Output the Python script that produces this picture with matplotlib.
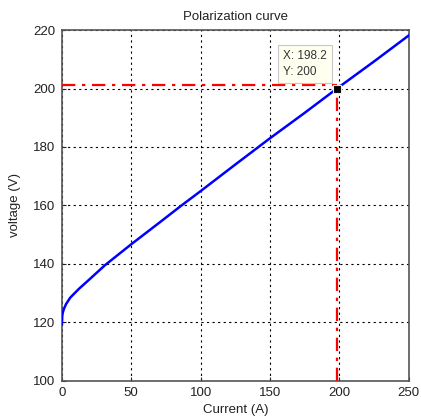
import matplotlib
matplotlib.use("Agg")
import matplotlib.pyplot as plt

# Data
current = [0, 0.3, 0.7, 1.5, 3, 6, 12, 19, 31, 50, 70, 86, 100, 125, 150, 175, 198.2, 225, 250]
voltage = [119.3, 122.3, 123.4, 124.6, 126.2, 128.4, 131.3, 134.3, 139.5, 146.7, 154.0, 159.9, 164.9, 174.0, 183.0, 191.7, 200.0, 209.3, 218.2]
tip_x, tip_y = 198.2, 200
ref_level = 201.1
xticks = [0, 50, 100, 150, 200, 250]
yticks = [100, 120, 140, 160, 180, 200, 220]

plt.rcParams['font.family'] = ['Liberation Sans', 'DejaVu Sans']
fig = plt.figure(figsize=(4.21, 4.19), dpi=100)
ax = fig.add_axes([0.147, 0.0916, 0.824, 0.8364])

ax.plot(current, voltage, color='#0000ff', lw=1.8, zorder=3)
ax.plot([0, tip_x], [ref_level, ref_level], color='red', lw=1.6, ls=(0, (6, 3, 1.5, 3)), zorder=4)
ax.plot([tip_x, tip_x], [100, ref_level], color='red', lw=1.6, ls=(0, (6, 3, 1.5, 3)), zorder=4)
ax.plot([tip_x], [tip_y], marker='s', ms=6, color='black', mec='#f5f0c8', mew=0.8, zorder=5)

ax.annotate(f"X: {tip_x}\nY: {tip_y}", xy=(tip_x, tip_y), xytext=(-10, 11),
            textcoords='offset pixels', fontsize=8.5, color='#333333', linespacing=1.4,
            bbox=dict(boxstyle='square,pad=0.45', fc='#fffff0', ec='#c8c8c8', lw=0.8),
            ha='right', va='bottom', multialignment='left', zorder=6)

ax.set_xlim(0, 250)
ax.set_ylim(100, 220)
ax.set_xticks(xticks)
ax.set_yticks(yticks)
ax.grid(True, color='black', ls=(0, (2, 3)), lw=0.8)
ax.tick_params(direction='in', length=3, labelsize=9.5, colors='#222222', pad=4.5)
for s in ax.spines.values():
    s.set_color('#555555')
    s.set_linewidth(1.2)
ax.set_title('Polarization curve', fontsize=9.5, pad=7, color='#222222')
ax.set_xlabel('Current (A)', fontsize=9.5, labelpad=4, color='#222222')
ax.set_ylabel('voltage (V)', fontsize=9.5, labelpad=9, color='#222222')

fig.savefig('out.png', dpi=100)
